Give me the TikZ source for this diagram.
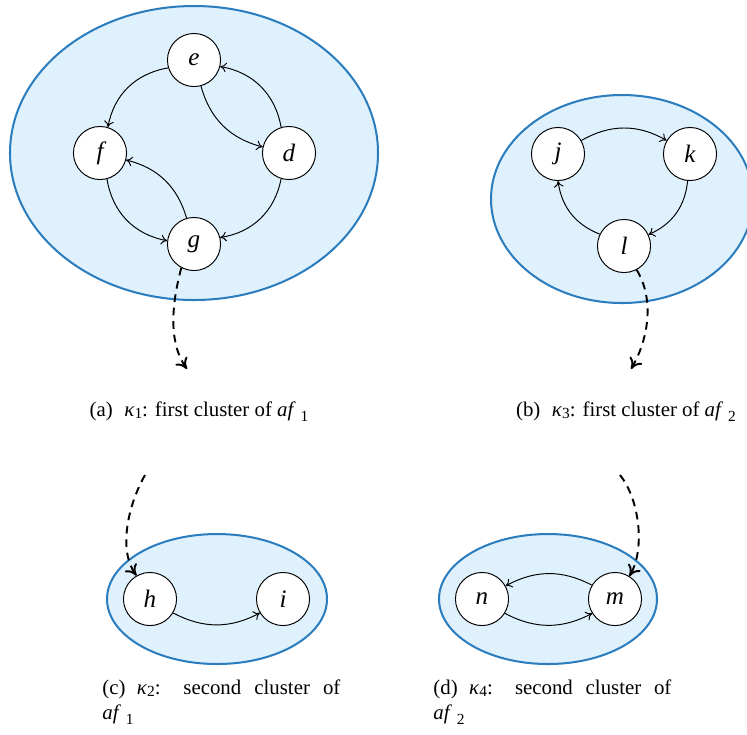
\documentclass[tikz,border=0pt]{standalone}
\usepackage{fontspec}
\setmainfont{Liberation Serif}
\usetikzlibrary{arrows.meta}
\definecolor{clfill}{RGB}{223,241,253}
\definecolor{clborder}{RGB}{44,125,190}
\newcommand{\kapsub}[1]{\textit{κ}\raisebox{-1.2pt}{\footnotesize #1}}
\newcommand{\afsub}[1]{\textit{af}\hspace{2.5pt}\raisebox{-3pt}{\footnotesize #1}}
\begin{document}
\begin{tikzpicture}[x=0.518pt,y=-0.518pt,
  cluster/.style={draw=clborder, fill=clfill, line width=1.05pt},
  state/.style={circle, draw, fill=white, line width=0.5pt, minimum size=27.5pt, inner sep=0pt, font=\fontsize{13}{15}\selectfont\itshape},
  edge/.style={-{To[length=3.2pt,width=5pt]}, line width=0.5pt},
  link/.style={-{To[length=5.5pt,width=7.5pt]}, line width=1pt, dash pattern=on 4pt off 3pt},
  caption/.style={font=\fontsize{10.8}{12.95}\selectfont, inner sep=0pt}
]
\useasboundingbox (0,0) rectangle (747,734);
\clip (0,0) rectangle (747,734);

% cluster a
\path[cluster] (194,153) ellipse [x radius=184, y radius=147];
\node[state] (e) at (194,60) {e};
\node[state] (f) at (100,153) {f};
\node[state] (d) at (289,153) {d};
\node[state] (g) at (194,244) {g};
\draw[edge] (e.197) to[bend right=35] (f.73);
\draw[edge] (e.285) to[bend right=30] (d.167);
\draw[edge] (d.107) to[bend right=35] (e.346);
\draw[edge] (f.285) to[bend right=35] (g.173);
\draw[edge] (g.106) to[bend right=30] (f.345);
\draw[edge] (d.253) to[bend left=35] (g.14);

% cluster b
\path[cluster] (622,199) ellipse [x radius=131, y radius=104];
\node[state] (j) at (558,154) {j};
\node[state] (k) at (690,154) {k};
\node[state] (l) at (624,246) {l};
\draw[edge] (j.30) to[bend left=30] (k.150);
\draw[edge] (k.265) to[bend left=30] (l.25);
\draw[edge] (l.154) to[bend left=30] (j.270);

% dashed links
\coordinate (ga) at (187,369);
\coordinate (la) at (631,369);
\draw[link] (g.242) .. controls (170,310) and (170,345) .. (ga);
\draw[link] (l.298) .. controls (655,300) and (648,340) .. (la);

% captions a, b
\node[caption, anchor=base] (capa) at (199,416) {(a)\hspace{0.55em}\kapsub{1}: first cluster of \afsub{1}};
\node[caption, anchor=base] (capb) at (626,416) {(b)\hspace{0.55em}\kapsub{3}: first cluster of \afsub{2}};

% cluster c
\path[cluster] (217,599) ellipse [x radius=110, y radius=65];
\node[state] (h) at (150,599) {h};
\node[state] (i) at (283,599) {i};
\draw[edge] (h.329) to[bend right=28] (i.211);

% cluster d
\path[cluster] (548,599) ellipse [x radius=109, y radius=65];
\node[state] (n) at (482,599) {n};
\node[state] (m) at (615,599) {m};
\draw[edge] (n.328) to[bend right=28] (m.212);
\draw[edge] (m.149) to[bend right=28] (n.29);

% lower dashed links
\coordinate (ca) at (145,475);
\coordinate (da) at (620,475);
\draw[link] (ca) .. controls (128,505) and (118,550) .. (h.120);
\draw[link] (da) .. controls (640,500) and (645,550) .. (m.58);

% captions c, d
\node[caption, anchor=north west, text width=123.3pt, align=justify] (capc) at (102,679)
  {(c)\hspace{0.55em}\kapsub{2}: second cluster of\linebreak \afsub{1}};
\node[caption, anchor=north west, text width=123.3pt, align=justify] (capd) at (433,679)
  {(d)\hspace{0.55em}\kapsub{4}: second cluster of\linebreak \afsub{2}};
\end{tikzpicture}
\end{document}
